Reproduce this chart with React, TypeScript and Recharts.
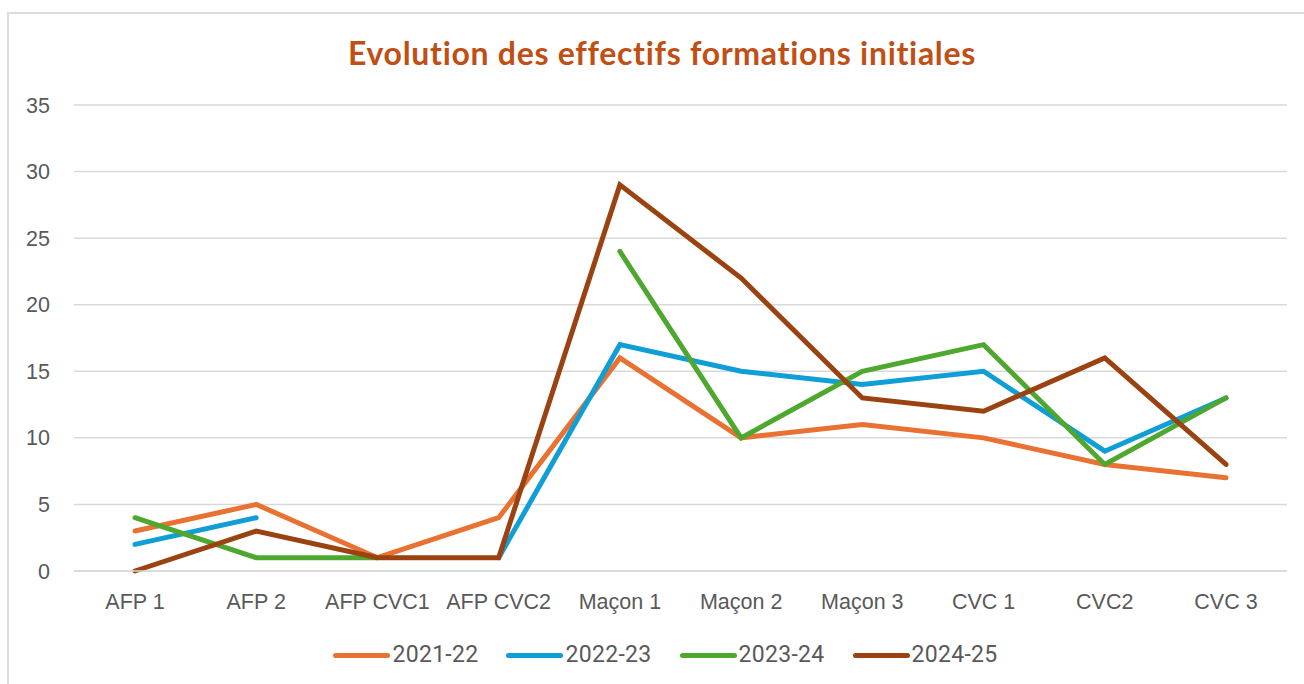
import React from "react";
import {
  LineChart,
  Line,
  XAxis,
  YAxis,
  CartesianGrid,
  Legend,
} from "recharts";

const categories = [
  "AFP 1",
  "AFP 2",
  "AFP CVC1",
  "AFP CVC2",
  "Maçon 1",
  "Maçon 2",
  "Maçon 3",
  "CVC 1",
  "CVC2",
  "CVC 3",
];

const y2021: (number | null)[] = [3, 5, 1, 4, 16, 10, 11, 10, 8, 7];
const y2022: (number | null)[] = [2, 4, null, 1, 17, 15, 14, 15, 9, 13];
const y2023: (number | null)[] = [4, 1, 1, null, 24, 10, 15, 17, 8, 13];
const y2024: (number | null)[] = [0, 3, 1, 1, 29, 22, 13, 12, 16, 8];

const yTicks = [0, 5, 10, 15, 20, 25, 30, 35];

const series = [
  { key: "2021-22", values: y2021, color: "#E97132" },
  { key: "2022-23", values: y2022, color: "#0F9ED5" },
  { key: "2023-24", values: y2023, color: "#4EA72E" },
  { key: "2024-25", values: y2024, color: "#9A4311" },
];

const data = categories.map((name, i) => {
  const row: Record<string, string | number | null> = { name };
  series.forEach((s) => {
    row[s.key] = s.values[i];
  });
  return row;
});

const textColor = "#595959";
const axisFont = "'Liberation Sans', Arial, sans-serif";

const LegendRow = () => (
  <div
    style={{
      display: "flex",
      justifyContent: "center",
      gap: 28,
      fontFamily: "Roboto, sans-serif",
      fontSize: 23,
      letterSpacing: 0.3,
      color: textColor,
      lineHeight: "26px",
    }}
  >
    {series.map((s) => (
      <div key={s.key} style={{ display: "flex", alignItems: "center" }}>
        <span
          style={{
            display: "inline-block",
            width: 57,
            height: 5,
            borderRadius: 3,
            background: s.color,
            marginRight: 2,
          }}
        />
        <span>{s.key}</span>
      </div>
    ))}
  </div>
);

export default function App() {
  return (
    <div
      style={{
        position: "fixed",
        left: 0,
        top: 0,
        width: 1304,
        height: 684,
        overflow: "hidden",
        background: "#fff",
      }}
    >
      <div
        style={{
          position: "absolute",
          left: 7,
          top: 12,
          width: 1320,
          height: 700,
          borderTop: "2px solid #dcdcdc",
          borderLeft: "2px solid #dcdcdc",
        }}
      >
        <div
          style={{
            position: "absolute",
            left: 0,
            top: 23,
            width: 1306,
            textAlign: "center",
            fontFamily: "Lato, sans-serif",
            fontWeight: 700,
            fontSize: 32,
            letterSpacing: 0.7,
            lineHeight: "32px",
            color: "#C04F15",
            whiteSpace: "nowrap",
          }}
        >
          Evolution des effectifs formations initiales
        </div>
        <div style={{ position: "absolute", left: 0, top: 0 }}>
          <LineChart
            width={1295}
            height={670}
            data={data}
            margin={{ top: 91, right: 17, left: 0, bottom: 83 }}
          >
            <CartesianGrid
              vertical={false}
              stroke="#d9d9d9"
              strokeWidth={1.5}
            />
            <XAxis
              dataKey="name"
              padding={{ left: 61, right: 61 }}
              axisLine={{ stroke: "#d9d9d9", strokeWidth: 1.5 }}
              tickLine={false}
              tickSize={0}
              tickMargin={23}
              interval={0}
              tick={{ fill: textColor, fontSize: 21.5, fontFamily: axisFont }}
            />
            <YAxis
              width={65}
              domain={[0, 35]}
              ticks={yTicks}
              axisLine={false}
              tickLine={false}
              tickSize={0}
              tickMargin={24}
              tick={{ fill: textColor, fontSize: 21.5, fontFamily: axisFont }}
            />
            <Legend
              verticalAlign="middle"
              align="center"
              layout="horizontal"
              wrapperStyle={{ top: 628, left: 9, width: 1295 }}
              content={() => <LegendRow />}
            />
            {series.map((s) => (
              <Line
                key={s.key}
                type="linear"
                dataKey={s.key}
                stroke={s.color}
                strokeWidth={5}
                strokeLinecap="round"
                dot={false}
                activeDot={false}
                isAnimationActive={false}
              />
            ))}
          </LineChart>
        </div>
      </div>
    </div>
  );
}
